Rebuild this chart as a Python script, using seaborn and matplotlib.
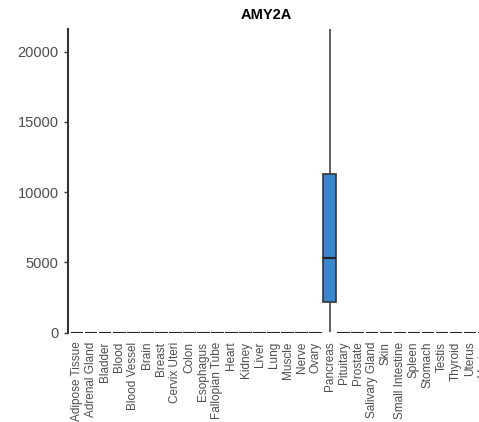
import pandas as pd
import seaborn as sns
import matplotlib.pyplot as plt

# tissues shown on the x axis (last one is cut off by the figure edge)
tissues = ['Adipose Tissue', 'Adrenal Gland', 'Bladder', 'Blood', 'Blood Vessel',
           'Brain', 'Breast', 'Cervix Uteri', 'Colon', 'Esophagus', 'Fallopian Tube',
           'Heart', 'Kidney', 'Liver', 'Lung', 'Muscle', 'Nerve', 'Ovary', 'Pancreas',
           'Pituitary', 'Prostate', 'Salivary Gland', 'Skin', 'Small Intestine',
           'Spleen', 'Stomach', 'Testis', 'Thyroid', 'Uterus', 'Vagina']

# expression values per tissue (only pancreas expresses AMY2A)
pancreas_values = [50, 2206, 5295, 11274, 21600]
other_values = [0, 0, 0, 0, 0]

rows = []
for t in tissues:
    vals = pancreas_values if t == 'Pancreas' else other_values
    for v in vals:
        rows.append({'tissue': t, 'expr': v})
df = pd.DataFrame(rows)

sns.set_style('white')
plt.rcParams['font.family'] = ['Liberation Sans', 'DejaVu Sans']

fig = plt.figure(figsize=(4.79, 4.22), dpi=100)
ax = fig.add_axes([0.1413, 0.2102, 0.889, 0.7204])

sns.boxplot(data=df, x='tissue', y='expr', order=tissues, color='#3A86CF',
            saturation=1, width=0.9, linecolor='#333333', linewidth=1.2,
            whis=1.5, fliersize=0, ax=ax,
            whiskerprops={'color': '#444444'},
            capprops={'visible': False},
            medianprops={'color': '#222222', 'linewidth': 1.5})

ax.set_xlim(-0.67, len(tissues) - 1 + 0.67)
ax.set_ylim(-50, 21600)
ax.set_yticks([0, 5000, 10000, 15000, 20000])

for s in ['top', 'right', 'bottom']:
    ax.spines[s].set_visible(False)
ax.spines['left'].set_color('#333333')
ax.spines['left'].set_linewidth(1.5)

ax.tick_params(axis='y', length=3, width=1, color='#333333', pad=3.5,
               labelsize=10.5, labelcolor='#4d4d4d', left=True)
ax.tick_params(axis='x', length=0, pad=6, labelsize=8.5, labelcolor='#4d4d4d',
               labelrotation=90)
ax.set_xlabel('')
ax.set_ylabel('')

fig.text(0.557, 0.964, 'AMY2A', ha='center', va='center', fontsize=10.5,
         fontweight='bold', color='black')

plt.savefig('out.png', dpi=100)
